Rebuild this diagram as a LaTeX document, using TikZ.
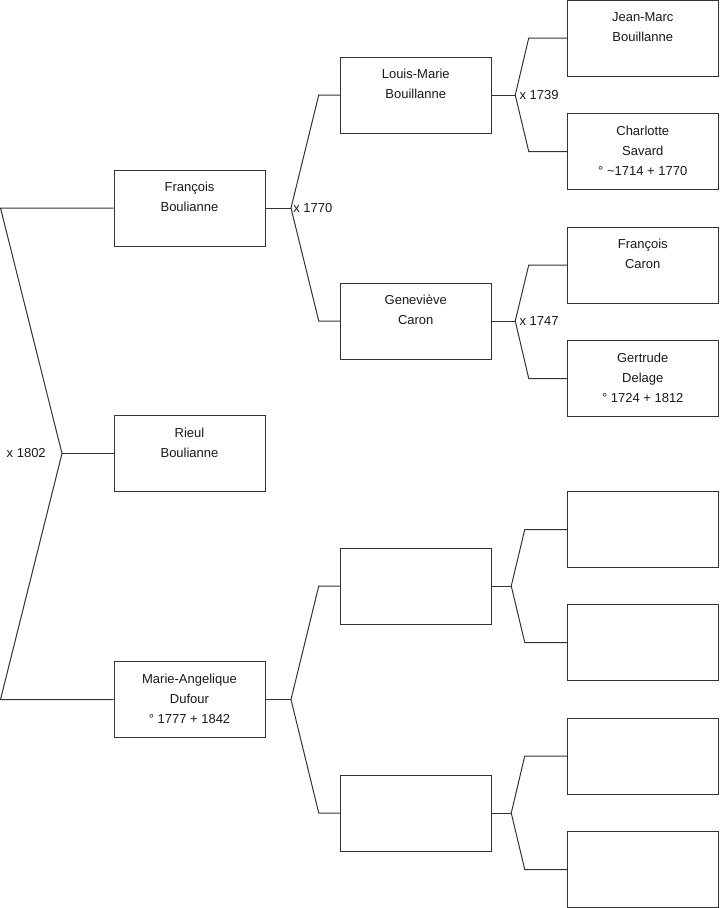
\documentclass[tikz,border=0pt]{standalone}
\usepackage{fontspec}
\setsansfont{Liberation Sans}
\usepackage{tikz}
\usetikzlibrary{
  positioning,
  calc,
}
\definecolor{ink}{HTML}{1A1A1A}
\definecolor{frame}{HTML}{333333}
\tikzset{
  font=\sffamily\fontsize{9.75}{15}\selectfont,
  every node/.append style={text=ink},
  person/.style={
    draw=frame,
    line width=0.75pt,
    fill=white,
    minimum width=113.25pt,
    minimum height=57pt,
    inner sep=0pt,
  },
  who/.style={align=center, inner sep=0pt, below=9.3pt of #1.north},
  link/.style={draw=frame, line width=0.75pt},
  wed/.style={inner sep=1.5pt, anchor=west},
}

\begin{document}
\begin{tikzpicture}[x=0.75pt,y=-0.75pt]
  \useasboundingbox (0,0) rectangle (719,908);

  % generation 1
  \node[person] (francois) at (189.5,208) {};
  \node[person] (rieul) at (189.5,453.5) {};
  \node[person] (marie) at (189.5,699.5) {};
  \node[who=francois] (francoist) {François\\Boulianne};
  \node[who=rieul] (rieult) {Rieul\\Boulianne};
  \node[who=marie] (mariet) {Marie-Angelique\\Dufour\\° 1777 + 1842};

  % generation 2
  \node[person] (louis) at (415.75,95) {};
  \node[person] (genevieve) at (415.75,321) {};
  \node[who=louis] (louist) {Louis-Marie\\Bouillanne};
  \node[who=genevieve] (genevievet) {Geneviève\\Caron};
  \foreach \n/\y in {e1/586, e2/813} {
    \node[person] (\n) at (415.75,\y) {};
  }

  % generation 3
  \node[person] (jean) at (642.75,38) {};
  \node[person] (charlotte) at (642.75,151.5) {};
  \node[person] (fcaron) at (642.75,265) {};
  \node[person] (gertrude) at (642.75,378.5) {};
  \node[who=jean] (jeant) {Jean-Marc\\Bouillanne};
  \node[who=charlotte] (charlottet) {Charlotte\\Savard\\° \textasciitilde1714 + 1770};
  \node[who=fcaron] (fcaront) {François\\Caron};
  \node[who=gertrude] (gertrudet) {Gertrude\\Delage\\° 1724 + 1812};
  \foreach \n/\y in {e3/529.5, e4/642.5, e5/756, e6/869.5} {
    \node[person] (\n) at (642.75,\y) {};
  }

  % x 1802
  \coordinate (v1802) at (62,453.5);
  \draw[link] (francois.west) -- (0.5,208) -- (v1802) -- (0.5,699.5) -- (marie.west);
  \draw[link] (v1802) -- (rieul.west);
  \node[anchor=east, inner sep=0pt] (w1802) at (46,453.5) {x 1802};

  % x 1770
  \coordinate (v1770) at ($(francois.east)+(25.5,0)$);
  \draw[link] (francois.east) -- (v1770);
  \draw[link] (louis.west) -- ($(louis.west)+(-21,0)$) -- (v1770)
    -- ($(genevieve.west)+(-21,0)$) -- (genevieve.west);
  \node[wed] (w1770) at (v1770) {x 1770};

  % x 1739 and x 1747
  \foreach \c/\up/\dn/\yr in {louis/jean/charlotte/1739, genevieve/fcaron/gertrude/1747} {
    \coordinate (v\yr) at ($(\c.east)+(23.5,0)$);
    \draw[link] (\c.east) -- (v\yr);
    \draw[link] (\up.west) -- ($(\up.west)+(-38,0)$) -- (v\yr)
      -- ($(\dn.west)+(-38,0)$) -- (\dn.west);
    \node[wed, inner sep=3pt] (w\yr) at (v\yr) {x \yr};
  }

  % unknown ancestors
  \coordinate (vmarie) at ($(marie.east)+(25.5,0)$);
  \draw[link] (marie.east) -- (vmarie);
  \draw[link] (e1.west) -- ($(e1.west)+(-21,0)$) -- (vmarie)
    -- ($(e2.west)+(-21,0)$) -- (e2.west);
  \foreach \c/\up/\dn in {e1/e3/e4, e2/e5/e6} {
    \coordinate (v\c) at ($(\c.east)+(19.5,0)$);
    \draw[link] (\c.east) -- (v\c);
    \draw[link] (\up.west) -- ($(\up.west)+(-42,0)$) -- (v\c)
      -- ($(\dn.west)+(-42,0)$) -- (\dn.west);
  }
\end{tikzpicture}
\end{document}
